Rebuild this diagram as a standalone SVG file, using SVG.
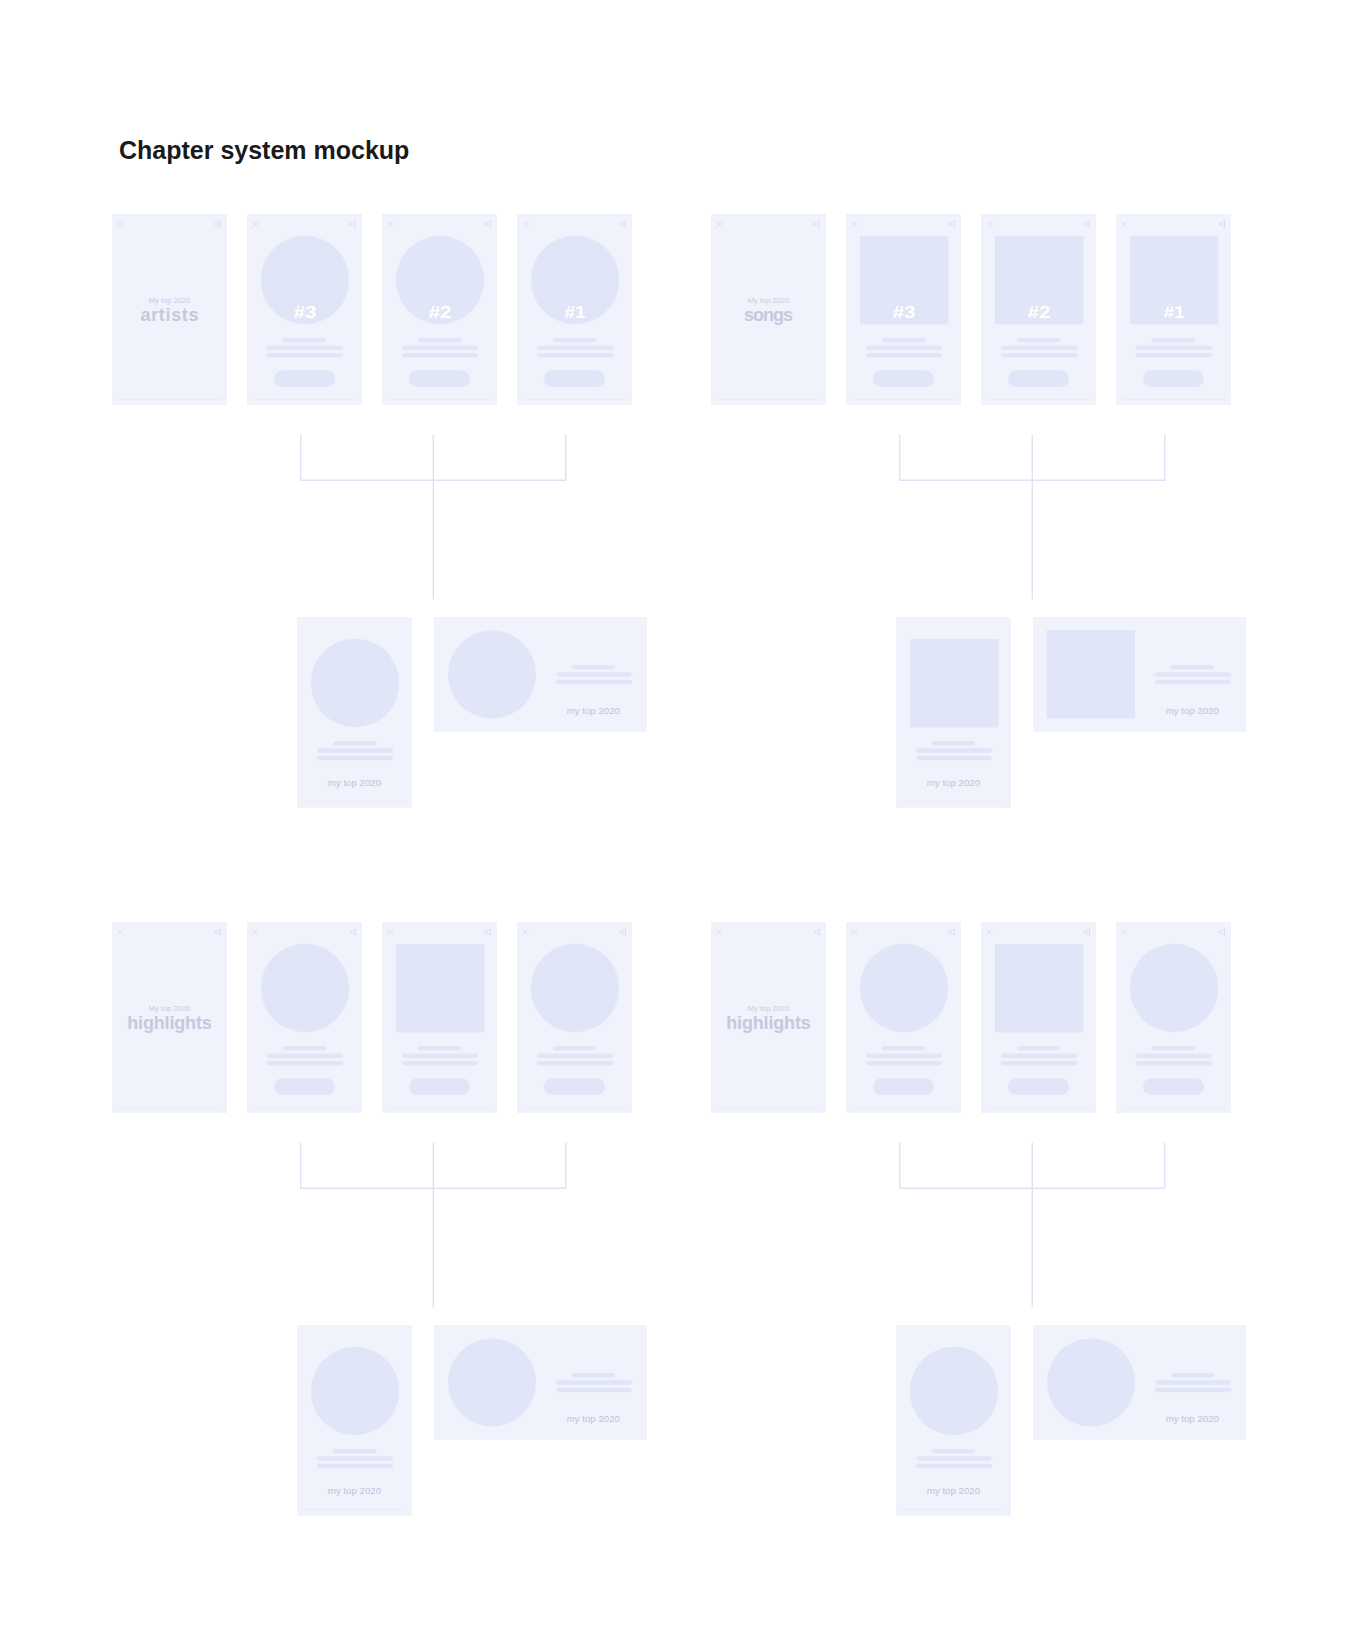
<svg xmlns="http://www.w3.org/2000/svg" xmlns:xlink="http://www.w3.org/1999/xlink" width="1358" height="1628" viewBox="0 0 1358 1628">
<style>
.bg{fill:#ffffff}
.card{fill:#f0f2fc}
.media{fill:#e1e5f8}
.icon{fill:none;stroke:#d5d9ec;stroke-width:0.8;stroke-linecap:round;stroke-linejoin:round}
.base{stroke:#e5e8f6;stroke-width:0.7}
.conn{fill:none;stroke:#dfe2f2;stroke-width:1.4}
.title{font-family:"Liberation Sans",Arial,sans-serif;font-weight:bold;font-size:25px;fill:#1a1a1a}
.small{font-family:"Liberation Sans",Arial,sans-serif;font-size:7.5px;fill:#c9cde0;text-anchor:middle}
.big{font-family:"Liberation Sans",Arial,sans-serif;font-weight:bold;font-size:18px;fill:#c5c9de;text-anchor:middle}
.rank{font-family:"Liberation Sans",Arial,sans-serif;font-weight:bold;font-size:16.5px;fill:#ffffff;text-anchor:middle}
.foot{font-family:"Liberation Sans",Arial,sans-serif;font-size:9.7px;fill:#bfc3da;text-anchor:middle}
</style>
<defs>
<g id="pBase">
<rect class="card" x="0" y="0" width="115" height="191"/>
<path class="icon" d="M5.5 7.5 L11 13 M11 7.5 L5.5 13"/>
<path class="icon" d="M103.5 9 h2 l3 -2.2 v6.4 l-3 -2.2 h-2 z"/>
<line class="base" x1="7" y1="185.5" x2="109" y2="185.5"/>
</g>
<g id="pBars">
<rect class="media" x="36" y="124" width="43" height="4.5" rx="2.25"/>
<rect class="media" x="20" y="131.5" width="76" height="4.5" rx="2.25"/>
<rect class="media" x="20" y="139" width="76" height="4.5" rx="2.25"/>
<rect class="media" x="27" y="156.3" width="61" height="16.7" rx="8.35"/>
</g>
<g id="bPortrait">
<rect class="card" x="0" y="0" width="115" height="191"/>
<line class="base" x1="7" y1="184.7" x2="109" y2="184.7"/>
<rect class="media" x="36" y="124" width="43" height="4.5" rx="2.25"/>
<rect class="media" x="20" y="131.3" width="76" height="4.5" rx="2.25"/>
<rect class="media" x="20" y="138.7" width="76" height="4.5" rx="2.25"/>
<text class="foot" x="57.5" y="169">my top 2020</text>
</g>
<g id="bLand">
<rect class="card" x="0" y="0" width="213" height="115"/>
<rect class="media" x="138" y="48" width="43" height="4.5" rx="2.25"/>
<rect class="media" x="122" y="55.3" width="76" height="4.5" rx="2.25"/>
<rect class="media" x="122" y="62.7" width="76" height="4.5" rx="2.25"/>
<text class="foot" x="159.3" y="96.7">my top 2020</text>
</g>
<circle id="pCircle" class="media" cx="58" cy="66" r="44.2"/>
<rect id="pSquare" class="media" x="14" y="22" width="88.5" height="88.5"/>
</defs>

<rect class="bg" x="0" y="0" width="1358" height="1628"/>

<text class="title" x="119" y="159">Chapter system mockup</text>

<!-- Row 1 left: artists -->
<g id="r1l-title" transform="translate(112,214)">
<use xlink:href="#pBase"/>
<text class="small" x="57.5" y="88.5">My top 2020</text>
<text class="big" x="57.5" y="106.7" textLength="58">artists</text>
</g>
<g id="r1l-3" transform="translate(247,214)">
<use xlink:href="#pBase"/><use xlink:href="#pCircle"/><use xlink:href="#pBars"/>
<text class="rank" x="58" y="104.3" textLength="23" lengthAdjust="spacingAndGlyphs">#3</text>
</g>
<g id="r1l-2" transform="translate(382,214)">
<use xlink:href="#pBase"/><use xlink:href="#pCircle"/><use xlink:href="#pBars"/>
<text class="rank" x="58" y="104.3" textLength="23" lengthAdjust="spacingAndGlyphs">#2</text>
</g>
<g id="r1l-1" transform="translate(517,214)">
<use xlink:href="#pBase"/><use xlink:href="#pCircle"/><use xlink:href="#pBars"/>
<text class="rank" x="58" y="104.3" textLength="21" lengthAdjust="spacingAndGlyphs">#1</text>
</g>
<g id="r1l-share-portrait" transform="translate(297,617)">
<use xlink:href="#bPortrait"/><use xlink:href="#pCircle"/>
</g>
<g id="r1l-share-land" transform="translate(434,617)">
<use xlink:href="#bLand"/>
<circle class="media" cx="58" cy="57.5" r="44"/>
</g>

<!-- Row 1 right: songs -->
<g id="r1r-title" transform="translate(711,214)">
<use xlink:href="#pBase"/>
<text class="small" x="57.5" y="88.5">My top 2020</text>
<text class="big" x="57.5" y="106.7" textLength="49">songs</text>
</g>
<g id="r1r-3" transform="translate(846,214)">
<use xlink:href="#pBase"/><use xlink:href="#pSquare"/><use xlink:href="#pBars"/>
<text class="rank" x="58" y="104.3" textLength="23" lengthAdjust="spacingAndGlyphs">#3</text>
</g>
<g id="r1r-2" transform="translate(981,214)">
<use xlink:href="#pBase"/><use xlink:href="#pSquare"/><use xlink:href="#pBars"/>
<text class="rank" x="58" y="104.3" textLength="23" lengthAdjust="spacingAndGlyphs">#2</text>
</g>
<g id="r1r-1" transform="translate(1116,214)">
<use xlink:href="#pBase"/><use xlink:href="#pSquare"/><use xlink:href="#pBars"/>
<text class="rank" x="58" y="104.3" textLength="21" lengthAdjust="spacingAndGlyphs">#1</text>
</g>
<g id="r1r-share-portrait" transform="translate(896,617)">
<use xlink:href="#bPortrait"/><use xlink:href="#pSquare"/>
</g>
<g id="r1r-share-land" transform="translate(1033,617)">
<use xlink:href="#bLand"/>
<rect class="media" x="13.7" y="13" width="88.3" height="88.3"/>
</g>

<!-- Row 2 left: highlights -->
<g id="r2l-title" transform="translate(112,922)">
<use xlink:href="#pBase"/>
<text class="small" x="57.5" y="88.5">My top 2020</text>
<text class="big" x="57.5" y="106.7" textLength="84.5">highlights</text>
</g>
<g id="r2l-a" transform="translate(247,922)">
<use xlink:href="#pBase"/><use xlink:href="#pCircle"/><use xlink:href="#pBars"/>
</g>
<g id="r2l-b" transform="translate(382,922)">
<use xlink:href="#pBase"/><use xlink:href="#pSquare"/><use xlink:href="#pBars"/>
</g>
<g id="r2l-c" transform="translate(517,922)">
<use xlink:href="#pBase"/><use xlink:href="#pCircle"/><use xlink:href="#pBars"/>
</g>
<g id="r2l-share-portrait" transform="translate(297,1325)">
<use xlink:href="#bPortrait"/><use xlink:href="#pCircle"/>
</g>
<g id="r2l-share-land" transform="translate(434,1325)">
<use xlink:href="#bLand"/>
<circle class="media" cx="58" cy="57.5" r="44"/>
</g>

<!-- Row 2 right: highlights -->
<g id="r2r-title" transform="translate(711,922)">
<use xlink:href="#pBase"/>
<text class="small" x="57.5" y="88.5">My top 2020</text>
<text class="big" x="57.5" y="106.7" textLength="84.5">highlights</text>
</g>
<g id="r2r-a" transform="translate(846,922)">
<use xlink:href="#pBase"/><use xlink:href="#pCircle"/><use xlink:href="#pBars"/>
</g>
<g id="r2r-b" transform="translate(981,922)">
<use xlink:href="#pBase"/><use xlink:href="#pSquare"/><use xlink:href="#pBars"/>
</g>
<g id="r2r-c" transform="translate(1116,922)">
<use xlink:href="#pBase"/><use xlink:href="#pCircle"/><use xlink:href="#pBars"/>
</g>
<g id="r2r-share-portrait" transform="translate(896,1325)">
<use xlink:href="#bPortrait"/><use xlink:href="#pCircle"/>
</g>
<g id="r2r-share-land" transform="translate(1033,1325)">
<use xlink:href="#bLand"/>
<circle class="media" cx="58" cy="57.5" r="44"/>
</g>

<!-- Connectors -->
<g id="connectors">
<path class="conn" d="M300.7 434.7 V480.3 H565.7 V434.7 M433.3 434.7 V599.3"/>
<path class="conn" d="M899.7 434.7 V480.3 H1164.7 V434.7 M1032.3 434.7 V599.3"/>
<path class="conn" d="M300.7 1142.7 V1188.3 H565.7 V1142.7 M433.3 1142.7 V1307.3"/>
<path class="conn" d="M899.7 1142.7 V1188.3 H1164.7 V1142.7 M1032.3 1142.7 V1307.3"/>
</g>
</svg>
